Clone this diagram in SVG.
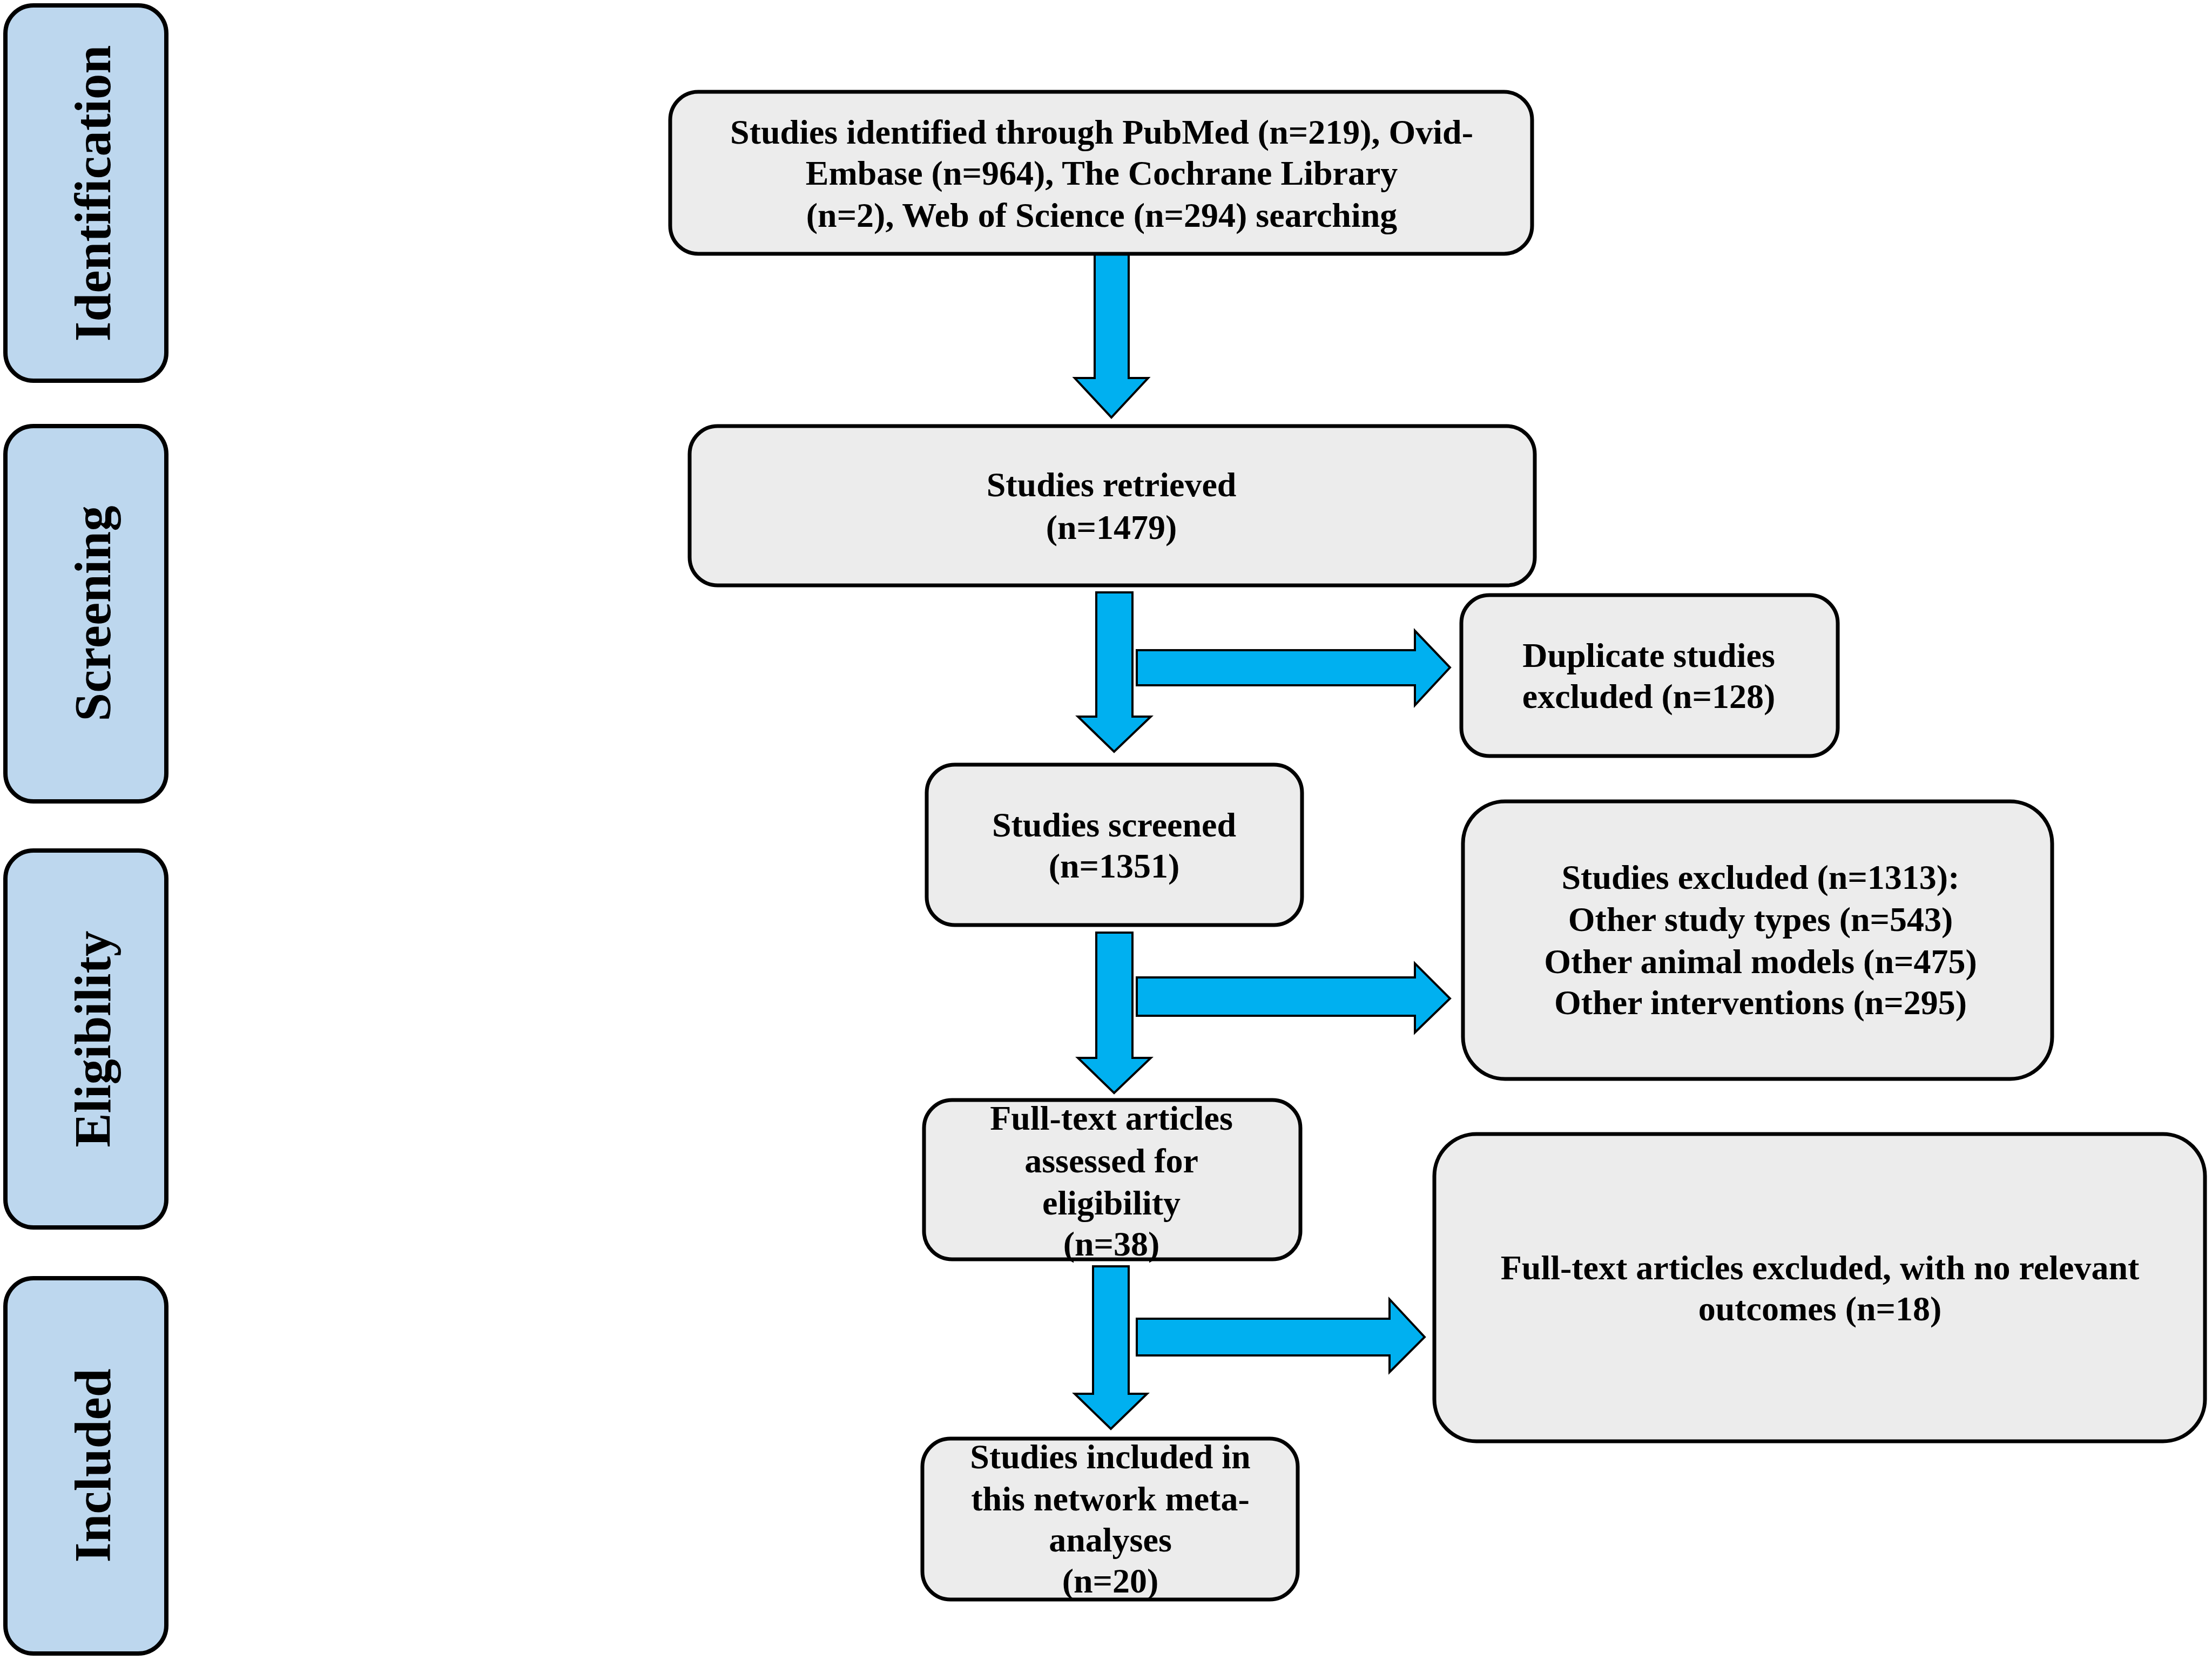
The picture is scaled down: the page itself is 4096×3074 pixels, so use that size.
<svg xmlns="http://www.w3.org/2000/svg" width="4096" height="3074" viewBox="0 0 4096 3074">
<style>
.side{fill:#bdd7ee;stroke:#000;stroke-width:8}
.box{fill:#ececec;stroke:#000;stroke-width:7}
.arr{fill:#00b0f0;stroke:#000;stroke-width:4;stroke-linejoin:miter}
.t{font-family:"Liberation Serif","Times New Roman",serif;font-weight:bold;font-size:64px;text-anchor:middle;fill:#000}
.st{font-family:"Liberation Serif","Times New Roman",serif;font-weight:bold;font-size:95px;text-anchor:middle;fill:#000}
</style>
<rect width="4096" height="3074" fill="#fff"/>
<g id="side-identification"><rect class="side" x="10" y="10" width="298" height="695" rx="52"/><text class="st" transform="translate(204,358) rotate(-90)">Identification</text></g>
<g id="side-screening"><rect class="side" x="10" y="789" width="298" height="695" rx="52"/><text class="st" transform="translate(204,1136) rotate(-90)">Screening</text></g>
<g id="side-eligibility"><rect class="side" x="10" y="1575" width="298" height="698" rx="52"/><text class="st" transform="translate(204,1924) rotate(-90)">Eligibility</text></g>
<g id="side-included"><rect class="side" x="10" y="2367" width="298" height="695" rx="52"/><text class="st" transform="translate(204,2714) rotate(-90)">Included</text></g>

<g id="connectors">
<path class="arr" d="M2027,470 H2090 V700 H2126 L2058,773 L1990,700 H2027 Z"/>
<path class="arr" d="M2030,1097 H2097 V1327 H2131 L2063,1392 L1996,1327 H2030 Z"/>
<path class="arr" d="M2105,1204 H2620 V1168 L2685,1236 L2620,1306 V1269 H2105 Z"/>
<path class="arr" d="M2030,1727 H2097 V1959 H2131 L2063,2024 L1996,1959 H2030 Z"/>
<path class="arr" d="M2105,1810 H2620 V1784 L2685,1849 L2620,1912 V1881 H2105 Z"/>
<path class="arr" d="M2024,2345 H2090 V2581 H2124 L2057,2646 L1990,2581 H2024 Z"/>
<path class="arr" d="M2105,2442 H2573 V2406 L2638,2476 L2573,2541 V2510 H2105 Z"/>
</g>

<g id="node-identified"><rect class="box" x="1241" y="170" width="1596" height="300" rx="52"/>
<text class="t" x="2040" y="266">Studies identified through PubMed (n=219), Ovid-</text>
<text class="t" x="2040" y="342">Embase (n=964), The Cochrane Library</text>
<text class="t" x="2040" y="420">(n=2), Web of Science (n=294) searching</text></g>
<g id="node-retrieved"><rect class="box" x="1277" y="789" width="1565" height="295" rx="52"/>
<text class="t" x="2058" y="919">Studies retrieved</text>
<text class="t" x="2058" y="998">(n=1479)</text></g>
<g id="node-duplicates"><rect class="box" x="2706" y="1102" width="697" height="298" rx="52"/>
<text class="t" x="3053" y="1235">Duplicate studies</text>
<text class="t" x="3053" y="1311">excluded (n=128)</text></g>
<g id="node-screened"><rect class="box" x="1716" y="1416" width="695" height="297" rx="52"/>
<text class="t" x="2063" y="1549">Studies screened</text>
<text class="t" x="2063" y="1625">(n=1351)</text></g>
<g id="node-excluded"><rect class="box" x="2709" y="1484" width="1091" height="514" rx="78"/>
<text class="t" x="3260" y="1646">Studies excluded (n=1313):</text>
<text class="t" x="3260" y="1724">Other study types (n=543)</text>
<text class="t" x="3260" y="1802">Other animal models (n=475)</text>
<text class="t" x="3260" y="1878">Other interventions (n=295)</text></g>
<g id="node-fulltext"><rect class="box" x="1711" y="2037" width="697" height="295" rx="52"/>
<text class="t" x="2058" y="2092">Full-text articles</text>
<text class="t" x="2058" y="2171">assessed for</text>
<text class="t" x="2058" y="2249">eligibility</text>
<text class="t" x="2058" y="2325">(n=38)</text></g>
<g id="node-fulltext-excluded"><rect class="box" x="2656" y="2100" width="1427" height="569" rx="78"/>
<text class="t" x="3370" y="2369">Full-text articles excluded, with no relevant</text>
<text class="t" x="3370" y="2445">outcomes (n=18)</text></g>
<g id="node-included"><rect class="box" x="1708" y="2664" width="695" height="298" rx="52"/>
<text class="t" x="2056" y="2719">Studies included in</text>
<text class="t" x="2056" y="2797">this network meta-</text>
<text class="t" x="2056" y="2873">analyses</text>
<text class="t" x="2056" y="2949">(n=20)</text></g>
</svg>
